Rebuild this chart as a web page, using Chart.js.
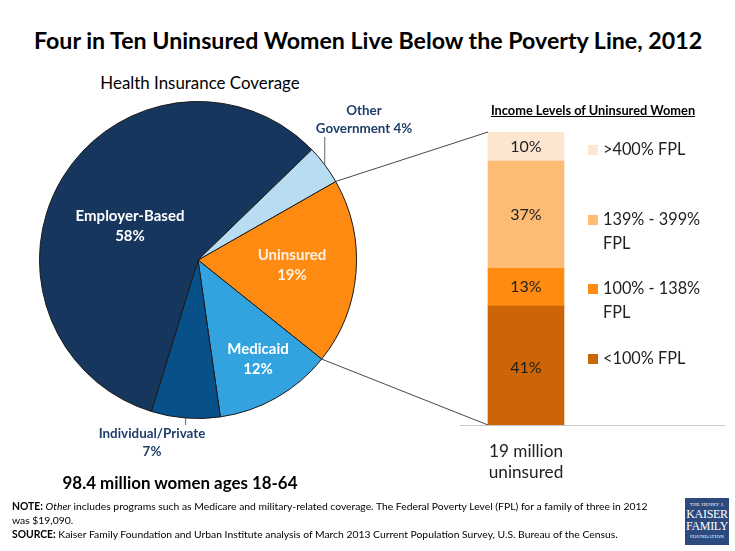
<!DOCTYPE html>
<html>
<head>
<meta charset="utf-8">
<script src="https://cdn.jsdelivr.net/npm/chart.js@4.4.1/dist/chart.umd.min.js"></script>
<style>
  html, body { margin: 0; padding: 0; background: #fff; }
  body { width: 735px; height: 551px; position: relative; overflow: hidden; font-family: Lato, "Open Sans", sans-serif; color: #000; }
  .abs { position: absolute; white-space: nowrap; }
  .c { transform: translate(-50%, -50%); text-align: center; }
  #title { left: 368px; top: 40px; font-size: 23.2px; font-weight: bold; }
  #pieTitle { left: 200px; top: 82px; font-size: 16.9px; }
  .pl { font-weight: bold; line-height: 20px; }
  .pl.out { color: #1F3E6C; font-size: 13.4px; line-height: 18px; }
  .pl.in { color: #fff; font-size: 15px; }
  .pl.cream { color: #FFF1E2; }
  #total { left: 180px; top: 482px; font-size: 16.9px; font-weight: bold; }
  #barTitle { left: 593px; top: 110px; font-size: 12.8px; font-weight: bold; text-decoration: underline; }
  #barFoot { left: 526px; top: 461px; font-size: 17.2px; line-height: 21px; color: #222; }
  #legend { left: 588px; top: 137px; }
  .li { height: 69.5px; display: flex; align-items: flex-start; }
  .sw { width: 10px; height: 10px; margin-top: 8px; margin-right: 5px; flex: none; }
  .lt { font-size: 16.3px; line-height: 24px; width: 118px; white-space: normal; color: #222; }
  #notes { left: 12px; top: 499px; font-size: 10.35px; line-height: 14px; color: #000; }
  #logo { left: 685px; top: 498px; width: 44px; height: 47px; background: #2C4A7E; color: #fff;
          font-family: "Liberation Serif", "DejaVu Serif", serif; text-align: center; }
  #logo .s { font-size: 5px; line-height: 7px; margin-top: 3px; letter-spacing: 0.2px; }
  #logo .b { font-size: 12px; line-height: 12px; letter-spacing: -0.3px; }
  canvas { position: absolute; }
</style>
</head>
<body>
<div id="title" class="abs c">Four in Ten Uninsured Women Live Below the Poverty Line, 2012</div>
<div id="pieTitle" class="abs c">Health Insurance Coverage</div>

<canvas id="pie" width="318" height="318" style="left:39px;top:101px;"></canvas>
<canvas id="bar" width="132" height="293" style="left:460px;top:132px;"></canvas>
<canvas id="lines" width="735" height="551" style="left:0;top:0;pointer-events:none;"></canvas>

<div id="pieLabels"></div>
<div id="total" class="abs c">98.4 million women ages 18-64</div>

<div id="barTitle" class="abs c">Income Levels of Uninsured Women</div>
<div id="legend" class="abs"></div>
<div id="barFoot" class="abs c">19 million<br>uninsured</div>

<div id="notes" class="abs"><b>NOTE:</b> <i>Other</i> includes programs such as Medicare and military-related coverage. The Federal Poverty Level (FPL) for a family of three in 2012<br>was $19,090.<br><b>SOURCE:</b> Kaiser Family Foundation and Urban Institute analysis of March 2013 Current Population Survey, U.S. Bureau of the Census.</div>
<div id="logo" class="abs"><div class="s">THE HENRY J.</div><div class="b">KAISER</div><div class="b">FAMILY</div><div class="s" style="margin-top:1px">FOUNDATION</div></div>

<script>
/* ── Data ── */
const coverageCats   = ['Uninsured', 'Medicaid', 'Individual/Private', 'Employer-Based', 'Other Government'];
const coverageVals   = [19, 12, 7, 58, 4];
const coverageColors = ['#FF8A12', '#33A3E0', '#07508A', '#17365D', '#B8DDF3'];

const incomeCats   = ['<100% FPL', '100% - 138% FPL', '139% - 399% FPL', '>400% FPL'];
const incomeVals   = [41, 13, 37, 10];
const incomeColors = ['#CB6508', '#FF8B13', '#FDBB74', '#FDE6D0'];

/* ── Pie slice labels (text from data, placement in css) ── */
const pieLabelSpots = [
  { left: 292, top: 264, cls: 'in cream' },
  { left: 258, top: 358, cls: 'in' },
  { left: 152, top: 442, cls: 'out' },
  { left: 130, top: 225, cls: 'in' },
  { left: 364, top: 119, cls: 'out' },
];
document.getElementById('pieLabels').innerHTML = coverageCats.map((cat, i) => {
  const s = pieLabelSpots[i];
  const txt = i === 4 ? `Other<br>Government ${coverageVals[i]}%` : `${cat}<br>${coverageVals[i]}%`;
  return `<div class="abs c pl ${s.cls}" style="left:${s.left}px;top:${s.top}px">${txt}</div>`;
}).join('');

/* ── Pie chart ── */
const pieChart = new Chart(document.getElementById('pie'), {
  type: 'pie',
  data: {
    labels: coverageCats,
    datasets: [{
      data: coverageVals,
      backgroundColor: coverageColors,
      borderColor: '#1a1a1a',
      borderWidth: 1,
    }],
  },
  options: {
    responsive: false,
    animation: false,
    rotation: 60.3,
    layout: { padding: 0 },
    plugins: { legend: { display: false }, tooltip: { enabled: false } },
  },
});

/* ── Stacked bar: draw the % in each segment ── */
const segmentLabels = {
  id: 'segmentLabels',
  afterDatasetsDraw(chart) {
    const ctx = chart.ctx;
    ctx.save();
    ctx.font = '16px Lato, sans-serif';
    ctx.fillStyle = '#1e1e1e';
    ctx.textAlign = 'center';
    ctx.textBaseline = 'middle';
    chart.data.datasets.forEach((ds, i) => {
      chart.getDatasetMeta(i).data.forEach(el => {
        const mid = (el.y + el.base) / 2;
        ctx.fillText(ds.data[0] + '%', el.x, mid - (i === 0 ? -2 : 0));
      });
    });
    ctx.restore();
  },
};

const barChart = new Chart(document.getElementById('bar'), {
  type: 'bar',
  data: {
    labels: ['Uninsured'],
    datasets: incomeCats.map((cat, i) => ({
      label: cat,
      data: [incomeVals[i]],
      backgroundColor: incomeColors[i],
      borderWidth: 0,
      barThickness: 76,
    })),
  },
  options: {
    responsive: false,
    animation: false,
    layout: { padding: 0 },
    scales: {
      x: { stacked: true, display: false },
      y: { stacked: true, display: false, min: 0, max: incomeVals.reduce((a, b) => a + b, 0) },
    },
    plugins: { legend: { display: false }, tooltip: { enabled: false } },
  },
  plugins: [segmentLabels],
});

/* ── Custom legend (top = last stack segment) ── */
document.getElementById('legend').innerHTML = incomeCats.map((cat, i) =>
  `<div class="li"><span class="sw" style="background:${incomeColors[i]}"></span><span class="lt">${cat}</span></div>`
).reverse().join('');

/* ── Overlay: connectors, leader lines, baseline ── */
function drawOverlay() {
  const ctx = document.getElementById('lines').getContext('2d');
  const pOff = document.getElementById('pie').getBoundingClientRect();
  const bOff = document.getElementById('bar').getBoundingClientRect();
  const arcs = pieChart.getDatasetMeta(0).data;
  const metas = incomeCats.map((c, i) => barChart.getDatasetMeta(i).data[0]);
  const bottomSeg = metas[0];
  const topSeg = metas[metas.length - 1];

  const arcPt = (arc, ang) => [pOff.left + arc.x + arc.outerRadius * Math.cos(ang),
                              pOff.top + arc.y + arc.outerRadius * Math.sin(ang)];

  ctx.strokeStyle = '#333';
  ctx.lineWidth = 0.9;

  // connectors from uninsured slice to the bar
  const un = arcs[0];
  const pTop = arcPt(un, un.startAngle);
  const pBot = arcPt(un, un.endAngle);
  const barLeft = bOff.left + topSeg.x - topSeg.width / 2;
  ctx.beginPath();
  ctx.moveTo(pTop[0], pTop[1]);
  ctx.lineTo(barLeft, bOff.top + topSeg.y);
  ctx.moveTo(pBot[0], pBot[1]);
  ctx.lineTo(barLeft, bOff.top + bottomSeg.base);
  ctx.stroke();

  // leader lines for outside labels
  ctx.strokeStyle = '#555';
  const other = arcs[4];
  const pO = arcPt(other, (other.startAngle + other.endAngle) / 2);
  const ind = arcs[2];
  const pI = arcPt(ind, (ind.startAngle + ind.endAngle) / 2);
  ctx.beginPath();
  ctx.moveTo(pO[0], pO[1]);
  ctx.lineTo(pO[0], 137);
  ctx.moveTo(pI[0], pI[1]);
  ctx.lineTo(pI[0], 425);
  ctx.stroke();

  // bar baseline
  const baseY = Math.round(bOff.top + bottomSeg.base) + 0.5;
  ctx.strokeStyle = '#C8C8C8';
  ctx.lineWidth = 1.2;
  ctx.beginPath();
  ctx.moveTo(460, baseY);
  ctx.lineTo(725, baseY);
  ctx.stroke();
}
drawOverlay();
</script>
</body>
</html>
